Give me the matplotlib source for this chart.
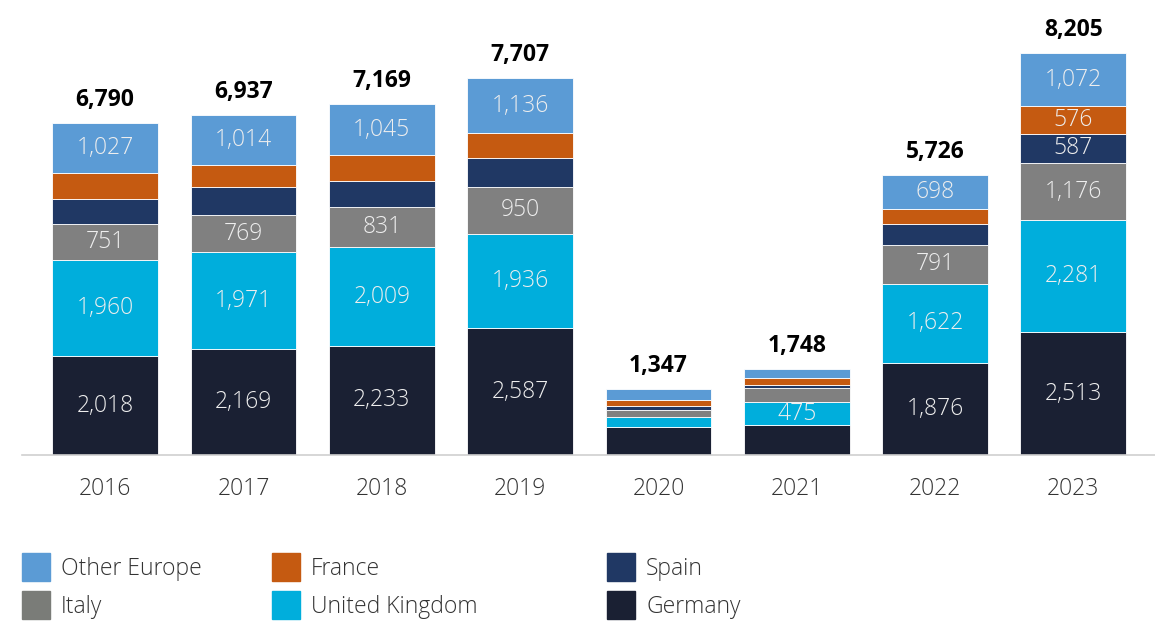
import matplotlib.pyplot as plt
import matplotlib.patches as mpatches
import numpy as np

plt.rcParams['font.family'] = ['Open Sans', 'DejaVu Sans']

years = ['2016', '2017', '2018', '2019', '2020', '2021', '2022', '2023']
totals = [6790, 6937, 7169, 7707, 1347, 1748, 5726, 8205]

# stacked from bottom to top
germany = [2018, 2169, 2233, 2587, 578, 605, 1876, 2513]
uk = [1960, 1971, 2009, 1936, 205, 475, 1622, 2281]
italy = [751, 769, 831, 950, 144, 292, 791, 1176]
spain = [505, 560, 520, 590, 73, 67, 440, 587]
france = [529, 454, 531, 508, 130, 144, 299, 576]
other = [1027, 1014, 1045, 1136, 217, 165, 698, 1072]

# which segments carry a value label
show_germany = [1, 1, 1, 1, 0, 0, 1, 1]
show_uk = [1, 1, 1, 1, 0, 1, 1, 1]
show_italy = [1, 1, 1, 1, 0, 0, 1, 1]
show_spain = [0, 0, 0, 0, 0, 0, 0, 1]
show_france = [0, 0, 0, 0, 0, 0, 0, 1]
show_other = [1, 1, 1, 1, 0, 0, 1, 1]

series = [
    ('Germany', germany, show_germany, '#1a2033'),
    ('United Kingdom', uk, show_uk, '#00aedc'),
    ('Italy', italy, show_italy, '#808080'),
    ('Spain', spain, show_spain, '#203864'),
    ('France', france, show_france, '#c55a11'),
    ('Other Europe', other, show_other, '#5b9bd5'),
]

fig = plt.figure(figsize=(11.55, 6.22), dpi=100)
ax = fig.add_axes([0.0, 0.2685, 1.0, 0.716])

x = np.arange(len(years))
bottom = np.zeros(len(years))
for name, vals, show, color in series:
    vals = np.array(vals, dtype=float)
    ax.bar(x, vals, width=0.765, bottom=bottom, color=color,
           edgecolor='white', linewidth=0.6)
    for i in range(len(years)):
        if show[i]:
            ax.text(x[i], bottom[i] + vals[i] / 2, f'{int(vals[i]):,}',
                    ha='center', va='center', fontsize=16.5,
                    fontweight='light', color='#eeeeee')
    bottom += vals

# totals above each bar
for i, t in enumerate(totals):
    ax.annotate(f'{t:,}', (x[i], bottom[i]), xytext=(0, 8),
                textcoords='offset points', ha='center', va='bottom',
                fontsize=16.5, fontweight='bold', color='black')

ax.set_xlim(-0.76, 7.59)
ax.set_ylim(0, 9100)
ax.set_xticks(x)
ax.set_xticklabels(years, fontsize=16.5, fontweight='light', color='#333333')
ax.tick_params(axis='x', length=0, pad=16)
ax.set_yticks([])
for s in ['top', 'right', 'left']:
    ax.spines[s].set_visible(False)
ax.spines['bottom'].set_color('#d0d0d0')
ax.spines['bottom'].set_linewidth(1.2)
ax.spines['bottom'].set_bounds(-0.6, 7.59)

# legend
W, H = 1155, 622
legend_items = [
    ('Other Europe', '#5b9bd5', 22, 567),
    ('France', '#c55a11', 272, 567),
    ('Spain', '#203864', 607, 567),
    ('Italy', '#7a7c78', 22, 605),
    ('United Kingdom', '#00aedc', 272, 605),
    ('Germany', '#1a2033', 607, 605),
]
for label, color, px, py in legend_items:
    fig.add_artist(mpatches.Rectangle((px / W, (H - py - 14) / H), 28 / W, 28 / H,
                                      transform=fig.transFigure, color=color))
    fig.text((px + 39) / W, (H - py - 2) / H, label, ha='left', va='center',
             fontsize=16.5, fontweight='light', color='#333333')

fig.savefig('out.png', dpi=100)
